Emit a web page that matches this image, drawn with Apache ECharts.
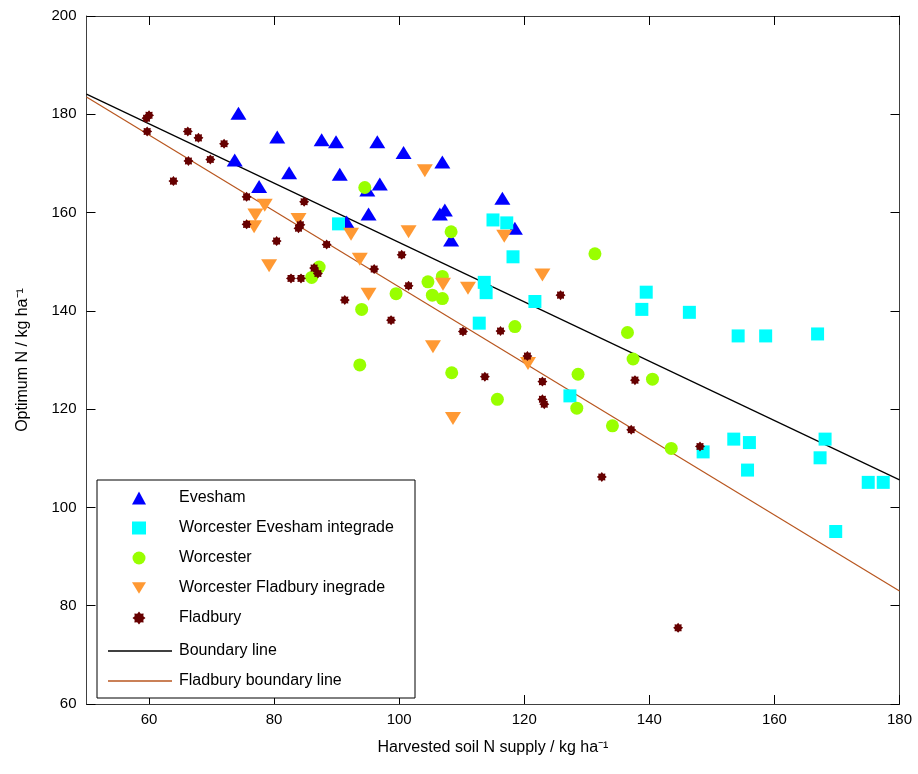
<!DOCTYPE html>
<html><head><meta charset="utf-8">
<script src="https://cdn.jsdelivr.net/npm/echarts@6/dist/echarts.min.js"></script>
<style>html,body{margin:0;padding:0;background:#fff}#c{width:918px;height:774px}</style>
</head><body><div id="c"></div>
<script>
const xTicks = [60, 80, 100, 120, 140, 160, 180];
const yTicks = [60, 80, 100, 120, 140, 160, 180, 200];

const evesham = [[74.3,180.2],[80.5,175.4],[73.7,170.7],[77.6,165.3],[82.4,168.1],[87.6,174.8],[89.9,174.4],[96.5,174.4],[100.7,172.2],[106.9,170.3],[90.5,167.8],[96.9,165.8],[94.9,164.6],[95.1,159.7],[107.3,160.5],[106.5,159.7],[91.6,158.1],[108.3,154.4],[116.5,162.9],[118.5,156.8]];
const worcEvesham = [[90.3,157.7],[112.8,137.5],[113.6,145.8],[113.9,143.7],[115.0,158.5],[117.2,157.9],[118.2,151.0],[121.7,141.9],[127.3,122.7],[139.5,143.8],[138.8,140.3],[146.4,139.7],[154.2,134.9],[158.6,134.9],[166.9,135.3],[153.5,113.9],[156.0,113.2],[168.1,113.9],[167.3,110.1],[148.6,111.3],[155.7,107.6],[175.0,105.1],[177.4,105.1],[169.8,95.1]];
const worcester = [[94.5,165.1],[108.3,156.1],[87.2,148.9],[86.0,146.8],[99.5,143.5],[94.0,140.3],[104.6,145.9],[106.9,147.0],[105.3,143.2],[106.9,142.5],[93.7,129.0],[108.4,127.4],[131.3,151.6],[118.5,136.8],[136.5,135.6],[137.4,130.2],[128.6,127.1],[140.5,126.1],[115.7,122.0],[128.4,120.2],[134.1,116.6],[143.5,112.0]];
const worcFladbury = [[78.5,161.5],[77.0,159.5],[76.8,157.1],[79.2,149.2],[83.9,158.6],[92.3,155.6],[101.5,156.1],[104.1,168.5],[93.7,150.5],[95.1,143.4],[107.0,145.4],[111.0,144.6],[105.4,132.7],[108.6,118.1],[116.8,155.2],[122.9,147.3],[120.6,129.3]];
const fladbury = [[60.0,179.8],[59.6,179.2],[59.7,176.5],[66.2,176.5],[67.9,175.2],[72.0,174.0],[66.3,170.5],[69.8,170.8],[63.9,166.4],[75.6,163.2],[75.6,157.6],[80.4,154.2],[84.8,162.2],[84.2,157.5],[83.9,156.8],[88.4,153.5],[100.4,151.4],[96.0,148.5],[86.4,148.7],[87.0,147.6],[82.7,146.6],[84.3,146.6],[101.5,145.1],[91.3,142.2],[98.7,138.1],[110.2,135.8],[125.8,143.2],[116.2,135.9],[120.5,130.8],[113.7,126.6],[122.9,125.6],[122.9,122.0],[123.2,121.0],[137.7,125.9],[137.1,115.8],[132.4,106.2],[148.1,112.4],[144.6,75.5]];
const boundaryLine = [[50,184.1],[180,105.6]];
const fladburyLine = [[50,183.5],[180,83.0]];

const FONT = 'Liberation Sans, Arial, sans-serif';
// 8-point blob star
const star = (function () {
  let d = 'path://';
  for (let i = 0; i < 16; i++) {
    const r = i % 2 === 0 ? 10 : 7.2;
    const a = Math.PI * i / 8;
    d += (i === 0 ? 'M' : 'L') + (r * Math.sin(a)).toFixed(2) + ',' + (-r * Math.cos(a)).toFixed(2) + ' ';
  }
  return d + 'Z';
})();
const invTri = 'path://M0,0 L16,0 L8,13 Z';
const axisCol = '#404040';

const chart = echarts.init(document.getElementById('c'), null, {renderer: 'canvas'});
const baseX = {type: 'value', min: 50, max: 180, splitLine: {show: false},
  axisLine: {show: true, onZero: false, lineStyle: {color: axisCol, width: 1}},
  axisTick: {show: true, inside: true, length: 9, customValues: xTicks, lineStyle: {color: '#000'}}};
const baseY = {type: 'value', min: 60, max: 200, interval: 20, splitLine: {show: false},
  axisLine: {show: true, onZero: false, lineStyle: {color: axisCol, width: 1}},
  axisTick: {show: true, inside: true, length: 9, lineStyle: {color: '#000'}}};

chart.setOption({
  animation: false,
  backgroundColor: '#fff',
  grid: {left: 86.5, top: 16, width: 813, height: 688, containLabel: false},
  xAxis: [
    Object.assign({}, baseX, {position: 'bottom',
      axisLabel: {customValues: xTicks, color: '#000', fontFamily: FONT, fontSize: 15, margin: 8},
      name: 'Harvested soil N supply / kg ha⁻¹', nameLocation: 'middle', nameGap: 36,
      nameTextStyle: {color: '#000', fontFamily: FONT, fontSize: 16}}),
    Object.assign({}, baseX, {position: 'top', axisLabel: {show: false}})
  ],
  yAxis: [
    Object.assign({}, baseY, {position: 'left',
      axisLabel: {color: '#000', fontFamily: FONT, fontSize: 15, margin: 10},
      name: 'Optimum N / kg ha⁻¹', nameLocation: 'middle', nameGap: 56, nameRotate: 90,
      nameTextStyle: {color: '#000', fontFamily: FONT, fontSize: 16}}),
    Object.assign({}, baseY, {position: 'right', axisLabel: {show: false}})
  ],
  graphic: [{type: 'rect', left: 96.5, top: 479.5, shape: {width: 318, height: 218}, z: 3,
    style: {fill: '#fff', stroke: '#000', lineWidth: 1}}],
  legend: [
    {data: [{name: 'Evesham', icon: 'triangle'}, {name: 'Worcester Evesham integrade', icon: 'rect'},
            {name: 'Worcester', icon: 'circle'}, {name: 'Worcester Fladbury inegrade', icon: invTri},
            {name: 'Fladbury', icon: star}],
     orient: 'vertical', left: 132, top: 483, padding: 0, itemGap: 0, itemWidth: 14, itemHeight: 13,
     z: 10, textStyle: {color: '#000', fontFamily: FONT, fontSize: 16, lineHeight: 30, padding: [0, 0, 0, 28]}},
    {data: [{name: 'Boundary line', icon: 'rect'}, {name: 'Fladbury boundary line', icon: 'rect'}],
     orient: 'vertical', left: 108, top: 636, padding: 0, itemGap: 0, itemWidth: 64, itemHeight: 1.3,
     z: 10, textStyle: {color: '#000', fontFamily: FONT, fontSize: 16, lineHeight: 30, padding: [0, 0, 0, 2]}}
  ],
  series: [
    {name: 'Boundary line', type: 'line', data: boundaryLine, showSymbol: false, symbol: 'none',
     lineStyle: {color: '#000', width: 1.2}, itemStyle: {color: '#000'}, z: 1},
    {name: 'Fladbury boundary line', type: 'line', data: fladburyLine, showSymbol: false, symbol: 'none',
     lineStyle: {color: '#b8561f', width: 1.2}, itemStyle: {color: '#b8561f'}, z: 1},
    {name: 'Evesham', type: 'scatter', data: evesham, symbol: 'triangle', symbolSize: [16, 13],
     itemStyle: {color: '#0000ff', opacity: 1}, z: 2},
    {name: 'Worcester Evesham integrade', type: 'scatter', data: worcEvesham, symbol: 'rect', symbolSize: 13,
     itemStyle: {color: '#00ffff', opacity: 1}, z: 2},
    {name: 'Worcester', type: 'scatter', data: worcester, symbol: 'circle', symbolSize: 13,
     itemStyle: {color: '#99ff00', opacity: 1}, z: 2},
    {name: 'Worcester Fladbury inegrade', type: 'scatter', data: worcFladbury, symbol: 'triangle', symbolRotate: 180, symbolSize: [16, 13],
     itemStyle: {color: '#ff9933', opacity: 1}, z: 2},
    {name: 'Fladbury', type: 'scatter', data: fladbury, symbol: star, symbolSize: 10,
     itemStyle: {color: '#660000', opacity: 1}, z: 2}
  ]
});
</script></body></html>
